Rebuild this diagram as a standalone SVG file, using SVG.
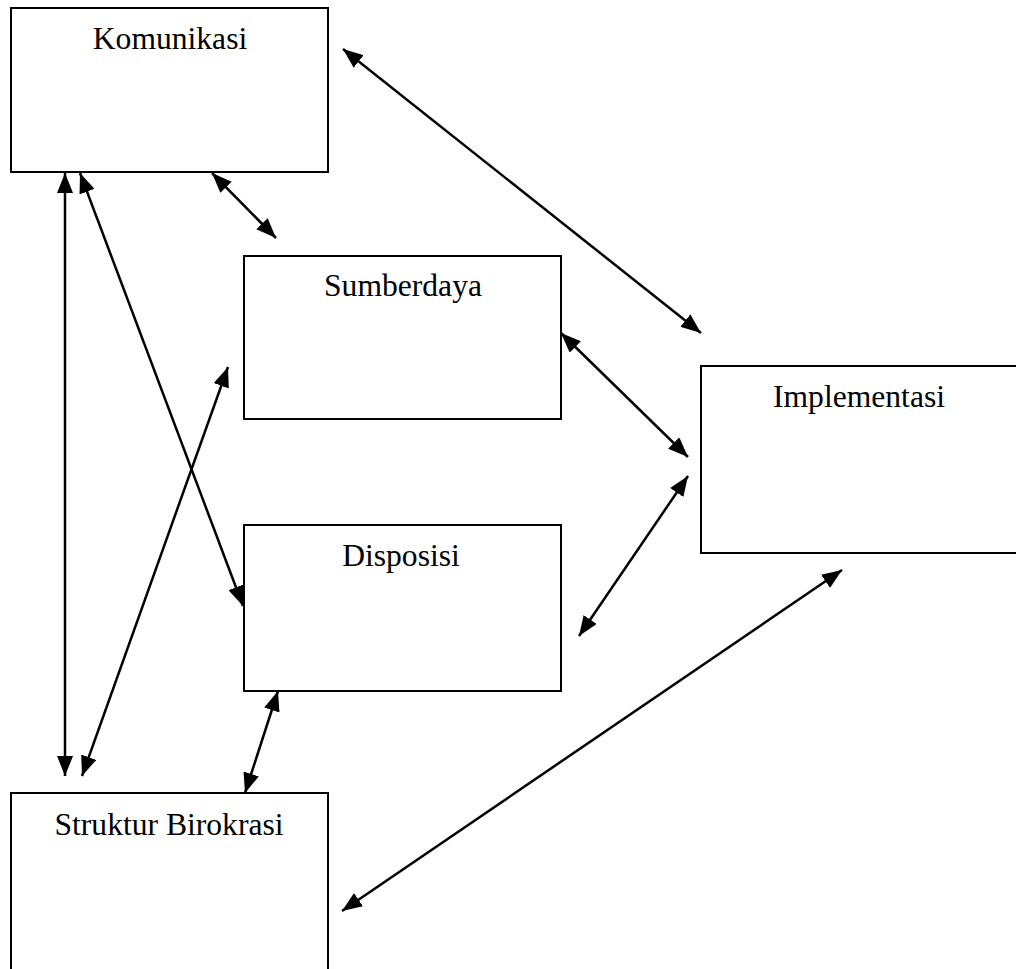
<svg xmlns="http://www.w3.org/2000/svg" width="1016" height="969" viewBox="0 0 1016 969">
<style>
.box{fill:#fff;stroke:#000;stroke-width:2}
.lbl{font-family:"Liberation Serif","Times New Roman",serif;font-size:31.6px;fill:#000;text-anchor:middle}
.con{stroke:#000;stroke-width:2.5;fill:none;marker-start:url(#ah);marker-end:url(#ah)}
</style>
<defs>
<marker id="ah" viewBox="0 0 20 16" refX="20" refY="8" markerWidth="20" markerHeight="16" markerUnits="userSpaceOnUse" orient="auto-start-reverse">
<path d="M0,0 L20,8 L0,16 z" fill="#000"/>
</marker>
</defs>
<rect width="1016" height="969" fill="#fff"/>
<g id="komunikasi"><rect class="box" x="11" y="8" width="317" height="164"/><text class="lbl" x="170" y="49">Komunikasi</text></g>
<g id="sumberdaya"><rect class="box" x="244" y="256" width="317" height="163"/><text class="lbl" x="403" y="296">Sumberdaya</text></g>
<g id="implementasi"><rect class="box" x="701" y="366" width="316" height="187"/><text class="lbl" x="859" y="407">Implementasi</text></g>
<g id="disposisi"><rect class="box" x="244" y="525" width="317" height="166"/><text class="lbl" x="401" y="566">Disposisi</text></g>
<g id="struktur"><rect class="box" x="11" y="793" width="317" height="200"/><text class="lbl" x="169" y="835">Struktur Birokrasi</text></g>
<g id="connectors">
<line class="con" x1="343" y1="49" x2="701" y2="333"/>
<line class="con" x1="212" y1="173" x2="276" y2="238"/>
<line class="con" x1="65" y1="173" x2="65" y2="776"/>
<line class="con" x1="80" y1="173" x2="243" y2="606"/>
<line class="con" x1="82" y1="776" x2="228" y2="367"/>
<line class="con" x1="278" y1="691" x2="245" y2="793"/>
<line class="con" x1="561" y1="333" x2="688" y2="457"/>
<line class="con" x1="688" y1="476" x2="579" y2="636"/>
<line class="con" x1="342" y1="911" x2="842" y2="570"/>
</g>
</svg>
